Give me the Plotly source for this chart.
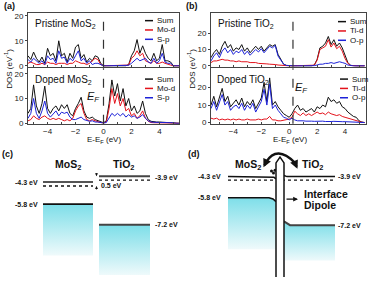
import plotly.graph_objects as go

W, H = 370, 282
def X(px): return px / W
def Y(py): return 1 - py / H

FONT = "Liberation Sans, Arial, sans-serif"

# ---------------- DOS data ----------------
E_a = [round(-5.4 + 0.2 * i, 1) for i in range(55)]
E_b = [round(-5.6 + 0.2 * i, 1) for i in range(56)]

mos2_pristine_sum = [4, 2.5, 5.5, 3, 1.5, 3.5, 1, 7, 4, 5,
                     2, 10, 4, 5, 1.5, 5, 3, 7.5, 8.5, 3,
                     4.5, 1.5, 3, 2, 4, 3.5, 1, 0, 0, 0,
                     0, 0, 0, 0, 0, 0, 0.5, 4, 6, 10.5,
                     5, 8, 5, 3, 2, 5, 2, 3, 8.5, 2,
                     2, 1.5, 0, 0, 0]
mos2_pristine_mod = [1, 1.5, 1, 0.5, 0.5, 1, 0.5, 1.5, 1, 1,
                     0.5, 1, 1, 1, 0.5, 1, 1, 2, 1.5, 1,
                     1, 0.5, 1, 2, 3, 2.5, 0.5, 0, 0, 0,
                     0, 0, 0, 0, 0, 0, 0.3, 3, 4, 6,
                     4, 5, 2, 1.5, 1, 2, 1, 1, 1.5, 1,
                     0.5, 0.3, 0, 0, 0]
mos2_pristine_sp = [2.5, 1.5, 3, 2, 1, 2, 0.5, 4, 2.5, 3,
                    1, 6, 3, 3.5, 1, 3, 2, 4, 6, 2,
                    3, 1, 2, 0.5, 1, 1, 0.5, 0, 0, 0,
                    0, 0, 0, 0, 0, 0, 0.2, 1, 2, 3,
                    2, 2.5, 3, 1.5, 1, 3, 1, 2, 5, 1.5,
                    1, 1, 0, 0, 0]

mos2_doped_sum = [4, 6, 15.5, 7, 4, 8, 15, 6, 4, 6,
                  7, 5, 7.5, 6, 7.5, 4, 3, 6, 8, 10.5,
                  5, 2.5, 2, 2.5, 1.5, 1, 0.5, 0.2, 1, 8,
                  17.5, 11, 16, 9, 14, 7, 10, 5, 7, 4,
                  5, 9, 4, 1.5, 0.8, 0.6, 0.5, 0.5, 0.4, 0.5,
                  0.4, 0.3, 0.2, 0, 0]
mos2_doped_mod = [1, 1.5, 3, 2, 1.5, 2.5, 3, 2, 1.5, 2,
                  1.5, 2, 1.5, 1, 1.5, 1, 2, 5, 7, 8,
                  4, 1.5, 1, 1.5, 1, 0.5, 0.3, 0.1, 0.5, 6,
                  14, 8, 12, 7, 10, 5, 6, 3, 4, 2,
                  3, 5, 2, 0.8, 0.3, 0.2, 0.2, 0.1, 0.1, 0.1,
                  0.1, 0.1, 0, 0, 0]
mos2_doped_sp = [2, 4, 10, 4, 2, 5, 9, 4, 2.5, 4,
                 5, 3, 4.5, 4, 4.5, 2.5, 1.5, 1.5, 2, 2.5,
                 1.5, 1, 0.8, 1, 0.5, 0.5, 0.2, 0.1, 0.3, 2,
                 4, 3, 4, 3, 4, 2.5, 3.5, 2.5, 3, 2,
                 2.5, 3.5, 2, 1, 0.5, 0.4, 0.4, 0.3, 0.3, 0.4,
                 0.3, 0.2, 0.2, 0, 0]

tio2_pristine_sum = [5, 8, 10, 7, 12, 15, 11, 13, 9, 11,
                     10, 13, 9, 11, 8, 10, 12, 10, 12, 9,
                     11, 13, 12, 13, 7, 4, 1, 0.3, 0, 0,
                     0, 0, 0, 0, 0, 0, 0, 0.5, 4, 11,
                     12, 14, 18, 13, 16, 12, 14, 11, 6, 2,
                     0.3, 0, 0, 0, 0, 0]
tio2_pristine_tid = [2, 3, 3, 3.5, 4, 3.5, 3.5, 3, 3, 2.5,
                     3, 2.5, 2.5, 2.5, 2, 2, 2, 1.5, 1.5, 1.5,
                     1.2, 1, 1, 0.8, 0.5, 0.3, 0.1, 0, 0, 0,
                     0, 0, 0, 0, 0, 0, 0, 0.4, 3.5, 10,
                     11, 12, 16, 11.5, 14, 10.5, 12, 9, 4.5, 1.5,
                     0.2, 0, 0, 0, 0, 0]
tio2_pristine_op = [3, 6, 8, 5, 9, 11, 8, 10, 7, 9,
                    8, 10, 7, 9, 6.5, 8, 10, 8.5, 10.5, 8,
                    10, 12, 11, 12.5, 6, 3.5, 1, 0.2, 0, 0,
                    0, 0, 0, 0, 0, 0, 0, 0.1, 0.5, 1,
                    1, 1.5, 1.5, 2, 1.5, 2, 2.5, 2, 1.5, 0.5,
                    0.1, 0, 0, 0, 0, 0]

tio2_doped_sum = [10, 15, 9, 14, 19.5, 12, 15, 9, 11, 13,
                  10, 14, 9, 12, 10, 13, 8, 11, 14, 23,
                  12, 25.5, 10, 12, 9, 7, 5, 4, 3, 5,
                  8, 10, 7, 8, 6, 7, 8, 6, 9, 8,
                  10, 9, 14.5, 12, 13, 11, 12, 9, 8, 6,
                  5, 3.5, 3, 1, 0.3, 0]
tio2_doped_tid = [2.5, 2, 2.5, 1.5, 2, 1.5, 2, 1.5, 2, 1.5,
                  2, 1.5, 1.5, 2, 1.5, 1.5, 1.5, 2, 1.5, 2,
                  2, 3.5, 1.5, 1.5, 1, 1, 1.2, 1.5, 2, 3,
                  6.5, 5, 4, 5.5, 4, 5, 4, 5, 6, 5,
                  5.5, 4.5, 6, 5, 4.5, 4, 4.5, 3.5, 3, 2.5,
                  2, 1.5, 1.2, 0.5, 0.2, 0]
tio2_doped_op = [8, 12, 7, 11, 16, 10, 12, 7, 9, 10,
                 8, 11, 7, 10, 8, 11, 6, 9, 12, 19,
                 10, 22, 8, 10, 7, 5, 3, 2.5, 1.5, 2.5,
                 1.5, 1, 1.2, 1, 0.8, 1, 0.8, 0.7, 0.8, 0.6,
                 0.8, 0.6, 0.8, 0.6, 0.7, 0.5, 0.6, 0.5, 0.5, 0.4,
                 0.4, 0.3, 0.3, 0.2, 0.1, 0]

fermi_a = 0.0
fermi_b = 0.27

legend_a = ["Sum", "Mo-d", "S-p"]
legend_b = ["Sum", "Ti-d", "O-p"]

# ---------------- band-alignment data (eV) ----------------
c_mos2_cb, c_mos2_vb, c_mos2_ef = -4.3, -5.8, -4.57
c_tio2_cb, c_tio2_vb, c_tio2_ef = -3.9, -7.2, -4.17
c_labels = ["-4.3 eV", "-5.8 eV", "-3.9 eV", "-7.2 eV"]
# panel (d): schematic positions after contact
d_cb, d_ef, d_vb_left, d_vb_right = -3.93, -4.17, -5.37, -7.23

COLORS = ["#111111", "#e3121b", "#1d22d8"]

fig = go.Figure()

# ---------- DOS panels ----------
panels = [
    ("x", "y", E_a, [mos2_pristine_sum, mos2_pristine_mod, mos2_pristine_sp]),
    ("x2", "y2", E_a, [mos2_doped_sum, mos2_doped_mod, mos2_doped_sp]),
    ("x3", "y3", E_b, [tio2_pristine_sum, tio2_pristine_tid, tio2_pristine_op]),
    ("x4", "y4", E_b, [tio2_doped_sum, tio2_doped_tid, tio2_doped_op]),
]
names = [legend_a, legend_a, legend_b, legend_b]
for (xa, ya, E, series), nm in zip(panels, names):
    for s, c, n in zip(series, COLORS, nm):
        fig.add_trace(go.Scatter(x=E, y=s, mode="lines", name=n,
                                 line=dict(color=c, width=1), xaxis=xa, yaxis=ya,
                                 showlegend=False, hoverinfo="skip"))

def dos_x(dom, rng, labels):
    return dict(domain=dom, range=rng, showline=True, mirror=True, linecolor="#444",
                linewidth=1, ticks="inside", ticklen=2, tickcolor="#444", dtick=2, tick0=0,
                showticklabels=labels, tickfont=dict(size=8, color="#222", family=FONT),
                showgrid=False, zeroline=False, fixedrange=True,
                minor=dict(dtick=1, ticks="inside", ticklen=1.5, tickcolor="#444"))

def dos_y(dom, rng, anchor):
    return dict(domain=dom, range=rng, showline=True, mirror=True, linecolor="#444",
                linewidth=1, ticks="outside", ticklen=2, tickcolor="#444",
                tickvals=[0, 10, 20], tickfont=dict(size=8, color="#222", family=FONT),
                showgrid=False, zeroline=False, fixedrange=True, anchor=anchor)

xa_dom = [X(28), X(179)]
xb_dom = [X(211), X(366)]
top_dom = [Y(67), Y(12)]
bot_dom = [Y(125), Y(68.5)]

layout = dict(
    xaxis=dos_x(xa_dom, [-5.4, 5.4], False) | dict(anchor="y"),
    yaxis=dos_y(top_dom, [-0.4, 21.2], "x"),
    xaxis2=dos_x(xa_dom, [-5.4, 5.4], True) | dict(anchor="y2"),
    yaxis2=dos_y(bot_dom, [-0.2, 22.2], "x2"),
    xaxis3=dos_x(xb_dom, [-5.6, 5.5], False) | dict(anchor="y3"),
    yaxis3=dos_y(top_dom, [-0.6, 32.5], "x3"),
    xaxis4=dos_x(xb_dom, [-5.6, 5.5], True) | dict(anchor="y4"),
    yaxis4=dos_y(bot_dom, [-0.7, 31.0], "x4"),
    xaxis5=dict(domain=[0, 0.5], range=[0, 185], visible=False, anchor="y5", fixedrange=True),
    yaxis5=dict(domain=[0, 0.5], range=[-10.813, -1.413], visible=False, anchor="x5", fixedrange=True),
    xaxis6=dict(domain=[0.5, 1], range=[0, 185], visible=False, anchor="y6", fixedrange=True),
    yaxis6=dict(domain=[0, 0.5], range=[-10.813, -1.413], visible=False, anchor="x6", fixedrange=True),
)

shapes = []
annotations = []

def ann(text, px, py, size=9, bold=False, xanchor="center", italic=False, color="#111", angle=0):
    t = text
    if bold:
        t = "<b>" + t + "</b>"
    if italic:
        t = "<i>" + t + "</i>"
    annotations.append(dict(text=t, x=X(px), y=Y(py), xref="paper", yref="paper",
                            showarrow=False, xanchor=xanchor, yanchor="middle",
                            textangle=angle,
                            font=dict(size=size, color=color, family=FONT)))

def dann(text, x, y, xr, yr, size=7, bold=True, xanchor="center", color="#111"):
    t = "<b>" + text + "</b>" if bold else text
    annotations.append(dict(text=t, x=x, y=y, xref=xr, yref=yr, showarrow=False,
                            xanchor=xanchor, yanchor="middle",
                            font=dict(size=size, color=color, family=FONT)))

# E_F dashed lines
for xa, ef in [("x", fermi_a), ("x2", fermi_a), ("x3", fermi_b), ("x4", fermi_b)]:
    ya = xa.replace("x", "y")
    shapes.append(dict(type="line", xref=xa, yref=ya + " domain", x0=ef, x1=ef, y0=0, y1=1,
                       line=dict(color="#333", width=1.2, dash="dash")))

# panel labels
ann("(a)", 9, 5, 9, bold=True)
ann("(b)", 192, 5, 9, bold=True)
ann("(c)", 7, 156, 9, bold=True)
ann("(d)", 194, 156, 9, bold=True)

ann("Pristine MoS<sub>2</sub>", 33, 23, 10, xanchor="left")
ann("Doped MoS<sub>2</sub>", 33, 80, 10, xanchor="left")
ann("Pristine TiO<sub>2</sub>", 216, 23, 10, xanchor="left")
ann("Doped TiO<sub>2</sub>", 215, 80, 10, xanchor="left")
ann("E<sub>F</sub>", 93, 98, 11, italic=True)
ann("E<sub>F</sub>", 301, 89, 11, italic=True)

ann("DOS (eV<sup>-1</sup>)", 8, 69, 8, angle=-90)
ann("DOS (eV<sup>-1</sup>)", 191, 69, 8, angle=-90)
ann("E-E<sub>F</sub> (eV)", 104, 141, 8)
ann("E-E<sub>F</sub> (eV)", 290, 141, 8)

# manual legends
def legend(names_, x0, rows):
    for n, c, r in zip(names_, COLORS, rows):
        shapes.append(dict(type="line", xref="paper", yref="paper", x0=X(x0), x1=X(x0 + 8),
                           y0=Y(r), y1=Y(r), line=dict(color=c, width=1.5)))
        ann(n, x0 + 10, r, 8, xanchor="left")

legend(legend_a, 145, [20, 29.5, 39])
legend(legend_a, 145, [79.5, 89, 98.5])
legend(legend_b, 338, [21, 30.5, 40])
legend(legend_b, 340, [79.5, 89, 98.5])

# ---------- panel (c) ----------
GRAD = [[0, "#f4fbfc"], [1, "#80dfe9"]]

def fill_band(xs, ys_top, bottom, xa, ya):
    px_ = list(xs) + [xs[-1], xs[0]]
    py_ = list(ys_top) + [bottom, bottom]
    fig.add_trace(go.Scatter(x=px_, y=py_, mode="lines", fill="toself", line=dict(width=0),
                             fillgradient=dict(type="vertical", colorscale=GRAD,
                                               start=bottom, stop=max(ys_top)),
                             xaxis=xa, yaxis=ya, showlegend=False, hoverinfo="skip"))

def hline(xs, ys, xa, ya, color="#111", width=1.5, dash="solid"):
    fig.add_trace(go.Scatter(x=xs, y=ys, mode="lines", line=dict(color=color, width=width, dash=dash),
                             xaxis=xa, yaxis=ya, showlegend=False, hoverinfo="skip"))

fill_band([43, 93], [c_mos2_vb, c_mos2_vb], -9.28, "x5", "y5")
fill_band([99, 150], [c_tio2_vb, c_tio2_vb], -10.61, "x5", "y5")
hline([43, 93], [c_mos2_cb] * 2, "x5", "y5", "#555", 2)
hline([43, 93], [c_mos2_ef] * 2, "x5", "y5", "#111", 1.3, "dot")
hline([43, 93], [c_mos2_vb] * 2, "x5", "y5", "#111", 1.8)
hline([99, 150], [c_tio2_cb] * 2, "x5", "y5", "#444", 2)
hline([99, 150], [c_tio2_ef] * 2, "x5", "y5", "#111", 1.3, "dot")
hline([99, 150], [c_tio2_vb] * 2, "x5", "y5", "#444", 2.2)

dann("MoS<sub>2</sub>", 68, -3.12, "x5", "y5", 10.5)
dann("TiO<sub>2</sub>", 123, -3.12, "x5", "y5", 10.5)
dann(c_labels[0], 26, c_mos2_cb, "x5", "y5")
dann(c_labels[1], 26, c_mos2_vb, "x5", "y5")
dann(c_labels[2], 166, c_tio2_cb - 0.08, "x5", "y5")
dann(c_labels[3], 166, c_tio2_vb, "x5", "y5")
dann("0.5 eV", 99, -4.56, "x5", "y5", xanchor="left")
for head, tail in [((96.5, c_tio2_cb), (96.5, -3.6)), ((96.5, c_mos2_ef), (96.5, -4.9))]:
    annotations.append(dict(x=head[0], y=head[1], ax=tail[0], ay=tail[1], xref="x5", yref="y5",
                            axref="x5", ayref="y5", showarrow=True, arrowhead=2, arrowsize=0.6,
                            arrowwidth=1, arrowcolor="#111", text=""))

# ---------- panel (d) ----------
hline([43, 150], [d_ef] * 2, "x6", "y6", "#111", 1.3, "dot")
fill_band([43, 84, 88, 91], [d_vb_left, d_vb_left, -5.45, -5.63], -8.86, "x6", "y6")
fill_band([99, 102, 105, 150], [-6.97, -7.13, d_vb_right, d_vb_right], -9.63, "x6", "y6")
hline([43, 84, 88, 91], [d_vb_left, d_vb_left, -5.45, -5.63], "x6", "y6", "#111", 1.6)
hline([99, 102, 105, 150], [-6.97, -7.13, d_vb_right, d_vb_right], "x6", "y6", "#444", 2)
hline([43, 86, 89, 91], [d_cb, d_cb, -3.98, -4.08], "x6", "y6", "#111", 1.5)
hline([99, 102, 150], [-3.86, d_cb, d_cb], "x6", "y6", "#111", 1.5)

# interface barrier
shapes.append(dict(type="path", xref="x6", yref="y6",
                   path="M 91,-10.75 L 91,-3.0 L 95,-2.6 L 99,-3.0 L 99,-10.75",
                   line=dict(color="#111", width=1.5), fillcolor="white"))
# curved arrow
shapes.append(dict(type="path", xref="x6", yref="y6",
                   path="M 81,-2.95 Q 92,-1.75 110,-3.0",
                   line=dict(color="#111", width=2.4)))
for head, tail in [((78.5, -3.3), (81.3, -2.9)), ((112.5, -3.4), (109.5, -2.95))]:
    annotations.append(dict(x=head[0], y=head[1], ax=tail[0], ay=tail[1], xref="x6", yref="y6",
                            axref="x6", ayref="y6", showarrow=True, arrowhead=2, arrowsize=0.7,
                            arrowwidth=2.4, arrowcolor="#111", text=""))
# electron
fig.add_trace(go.Scatter(x=[86.5, 88.5, 90], y=[-3.55, -3.68, -3.5], mode="markers",
                         marker=dict(color="#111", size=3), xaxis="x6", yaxis="y6",
                         showlegend=False, hoverinfo="skip"))
# interface dipole arrow
annotations.append(dict(x=113, y=-5.46, ax=100, ay=-5.46, xref="x6", yref="y6",
                        axref="x6", ayref="y6", showarrow=True, arrowhead=2, arrowsize=0.8,
                        arrowwidth=1.2, arrowcolor="#111", text=""))

dann("MoS<sub>2</sub>", 63, -3.12, "x6", "y6", 10.5)
dann("TiO<sub>2</sub>", 127, -3.12, "x6", "y6", 10.5)
dann("Interface", 117, -5.08, "x6", "y6", 10.5, xanchor="left")
dann("Dipole", 117, -5.86, "x6", "y6", 10.5, xanchor="left")
dann(c_labels[0], 24, d_cb, "x6", "y6")
dann(c_labels[1], 24, d_vb_left, "x6", "y6")
dann(c_labels[2], 164, d_cb, "x6", "y6")
dann(c_labels[3], 164, d_vb_right, "x6", "y6")

layout.update(dict(width=W, height=H, margin=dict(l=0, r=0, t=0, b=0),
                   paper_bgcolor="white", plot_bgcolor="rgba(0,0,0,0)", showlegend=False,
                   font=dict(family=FONT, color="#111"),
                   shapes=shapes, annotations=annotations))
fig.update_layout(**layout)
fig.write_html("out.html", config={"displayModeBar": False, "staticPlot": True},
               post_script="document.body.style.margin='0';")
